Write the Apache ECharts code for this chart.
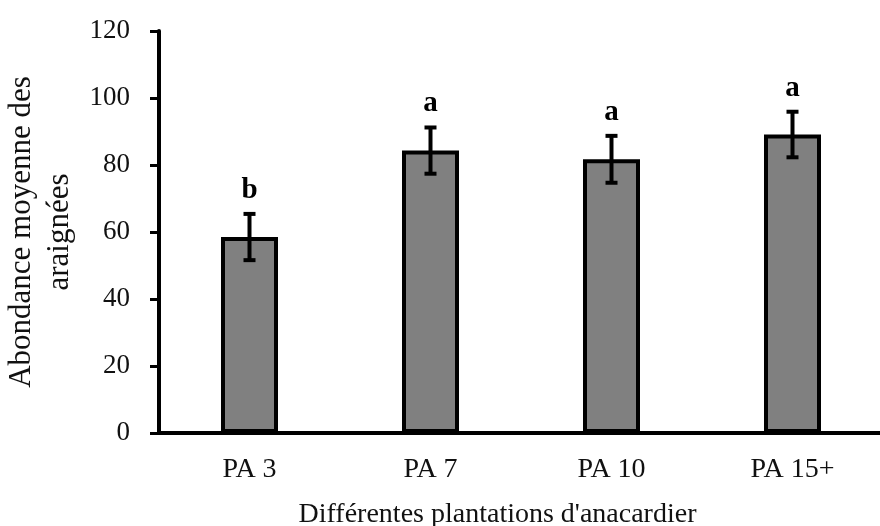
<!DOCTYPE html>
<html>
<head>
<meta charset="utf-8">
<script src="https://cdn.jsdelivr.net/npm/echarts@6/dist/echarts.min.js"></script>
<style>
  html, body { margin: 0; padding: 0; background: #fff; }
  #chart { width: 880px; height: 526px; }
</style>
</head>
<body>
<div id="chart"></div>
<script>
var categories = ['PA 3', 'PA 7', 'PA 10', 'PA 15+'];
var means = [58.5, 84.3, 81.7, 89.1];
var errors = [6.9, 6.9, 7.0, 6.8];
var letters = ['b', 'a', 'a', 'a'];
var yTicks = { min: 0, max: 120, interval: 20 };

var serif = '"Liberation Serif", "DejaVu Serif", serif';
var errData = [];
for (var i = 0; i < categories.length; i++) {
  errData.push([i, means[i], errors[i]]);
}

var myChart = echarts.init(document.getElementById('chart'));
var option = {
  backgroundColor: '#fff',
  animation: false,
  grid: { left: 159, right: -3, top: 31, bottom: 93, containLabel: false, outerBoundsMode: 'none' },
  xAxis: {
    type: 'category',
    data: categories,
    name: "Différentes plantations d'anacardier",
    nameLocation: 'middle',
    nameGap: 68,
    nameTextStyle: { color: '#111', fontSize: 28, fontFamily: serif, padding: [0, 47, 0, 0] },
    axisLine: { lineStyle: { color: '#000', width: 4 } },
    axisTick: { length: 9, lineStyle: { color: '#000', width: 3 } },
    axisLabel: { color: '#111', fontSize: 28, fontFamily: serif, margin: 23 }
  },
  yAxis: {
    type: 'value',
    min: yTicks.min,
    max: yTicks.max,
    interval: yTicks.interval,
    name: 'Abondance moyenne des\naraignées',
    nameLocation: 'middle',
    nameGap: 78,
    nameTextStyle: { color: '#111', fontSize: 31, fontFamily: serif, lineHeight: 38 },
    splitLine: { show: false },
    axisLine: { show: true, lineStyle: { color: '#000', width: 4 } },
    axisTick: { show: true, length: 9, lineStyle: { color: '#000', width: 3 } },
    axisLabel: { color: '#111', fontSize: 27, fontFamily: serif, margin: 29 }
  },
  series: [{
    type: 'bar',
    data: means,
    barWidth: 57,
    itemStyle: { color: '#808080', borderColor: '#000', borderWidth: 4 },
    z: 2
  }, {
    type: 'custom',
    data: errData,
    encode: { x: 0, y: 1 },
    z: 3,
    renderItem: function (params, api) {
      var idx = api.value(0);
      var m = api.value(1), e = api.value(2);
      var hi = api.coord([idx, m + e]);
      var lo = api.coord([idx, m - e]);
      var x = hi[0];
      var half = 6;
      var st = { stroke: '#000', lineWidth: 4 };
      return {
        type: 'group',
        children: [
          { type: 'line', shape: { x1: x, y1: hi[1], x2: x, y2: lo[1] }, style: st },
          { type: 'line', shape: { x1: x - half, y1: hi[1], x2: x + half, y2: hi[1] }, style: st },
          { type: 'line', shape: { x1: x - half, y1: lo[1], x2: x + half, y2: lo[1] }, style: st },
          {
            type: 'text',
            style: {
              text: letters[params.dataIndex],
              x: x,
              y: hi[1] - 9,
              align: 'center',
              verticalAlign: 'bottom',
              fill: '#000',
              font: 'bold 29px ' + serif
            }
          }
        ]
      };
    }
  }]
};
myChart.setOption(option);
window.onresize = function () {
  myChart.resize();
};
</script>
</body>
</html>
